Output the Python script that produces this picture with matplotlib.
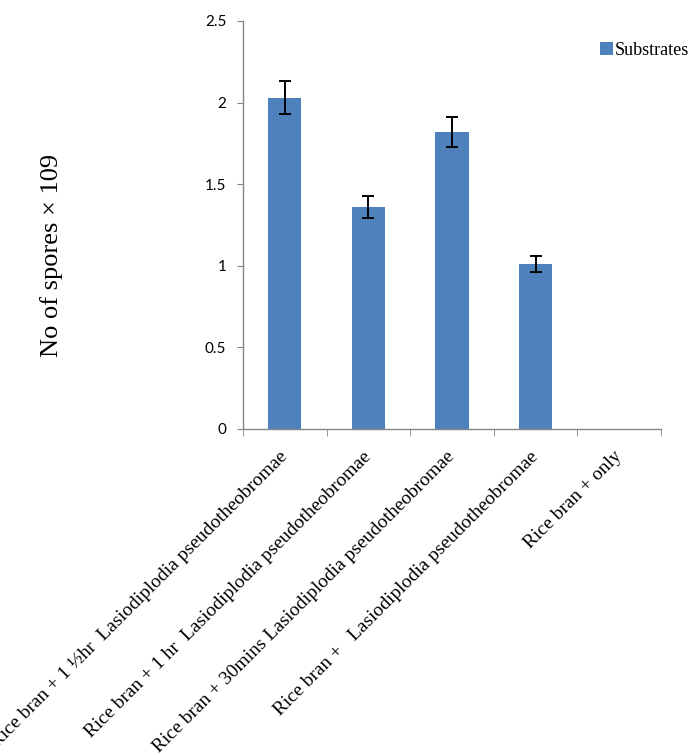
import numpy as np
import matplotlib
matplotlib.use("Agg")
from matplotlib import pyplot as plt
from matplotlib.patches import Patch

# data
categories = [
    "Rice bran + 1 \u00bdhr  Lasiodiplodia pseudotheobromae",
    "Rice bran + 1 hr  Lasiodiplodia pseudotheobromae",
    "Rice bran + 30mins Lasiodiplodia pseudotheobromae",
    "Rice bran +   Lasiodiplodia pseudotheobromae",
    "Rice bran + only",
]
spores = [2.03, 1.36, 1.82, 1.01, 0.0]
errors = [0.10, 0.065, 0.09, 0.05, 0.0]
yticks = [0, 0.5, 1, 1.5, 2, 2.5]
ytick_labels = ["0", "0.5", "1", "1.5", "2", "2.5"]

serif = "Liberation Serif"
grey = "#868686"
bar_color = "#4F81BD"

fig = plt.figure(figsize=(6.93, 7.55), dpi=100)
ax = fig.add_axes([0.3506, 0.4318, 0.6032, 0.5404])

x = np.arange(len(categories))
# no error bar drawn on the empty last category
err_x = [i for i in x if spores[i] > 0]
ax.bar(x, spores, width=0.4, color=bar_color, zorder=2)
ax.errorbar(err_x, [spores[i] for i in err_x], yerr=[errors[i] for i in err_x],
            fmt="none", ecolor="black", elinewidth=1.4, capsize=4, capthick=1.4, zorder=3)

ax.set_xlim(-0.5, len(categories) - 0.5)
ax.set_ylim(0, 2.5)

for s in ["top", "right"]:
    ax.spines[s].set_visible(False)
for s in ["left", "bottom"]:
    ax.spines[s].set_color(grey)
    ax.spines[s].set_linewidth(1.0)

ax.set_yticks(yticks)
ax.set_yticklabels(ytick_labels, fontfamily="Lato", fontsize=11)
ax.tick_params(axis="y", direction="out", length=4, color=grey, pad=8)

# labels at category centres, tick marks at category boundaries
ax.set_xticks(x)
ax.set_xticks(np.arange(len(categories) + 1) - 0.5, minor=True)
ax.tick_params(axis="x", which="major", length=0, pad=18)
ax.tick_params(axis="x", which="minor", direction="out", length=5, color=grey)
ax.set_xticklabels(categories, rotation=45, ha="right", va="center",
                   rotation_mode="anchor", fontfamily=serif, fontsize=14)

fig.text(52 / 693, 1 - 255 / 755, "No of spores \u00d7 109", rotation=90,
         ha="center", va="center", fontfamily=serif, fontsize=19)

handle = Patch(facecolor=bar_color, edgecolor="none", label="Substrates")
fig.legend(handles=[handle], loc="upper left", bbox_to_anchor=(600 / 693, 1 - 42 / 755),
           frameon=False, handlelength=0.7, handleheight=0.7, handletextpad=0.12,
           borderaxespad=0, borderpad=0, prop={"family": serif, "size": 13})

fig.savefig("out.png", dpi=100)
